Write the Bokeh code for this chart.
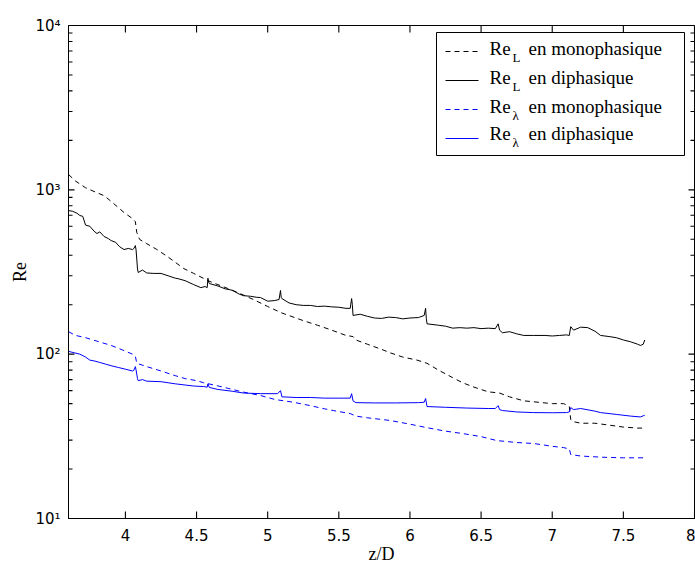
import math
from bokeh.plotting import figure
from bokeh.models import Range1d, FixedTicker, BoxAnnotation
from bokeh.core.properties import value
from bokeh.embed import file_html
from bokeh.resources import INLINE

# ---------------- data ----------------
# Re_L en diphasique (black solid)
zl_di = [3.60, 3.63, 3.66, 3.68, 3.70, 3.72, 3.75, 3.78, 3.80, 3.82, 3.85, 3.88, 3.90, 3.93,
         3.96, 3.99, 4.02, 4.05, 4.06, 4.07, 4.075, 4.085, 4.09, 4.12, 4.15, 4.20, 4.25, 4.30,
         4.35, 4.37, 4.42, 4.48, 4.53, 4.56, 4.575, 4.58, 4.585, 4.59, 4.65, 4.70, 4.75, 4.80,
         4.83, 4.88, 4.92, 4.95, 5.00, 5.05, 5.08, 5.09, 5.095, 5.10, 5.15, 5.20, 5.25, 5.30,
         5.35, 5.40, 5.45, 5.50, 5.55, 5.58, 5.59, 5.595, 5.60, 5.65, 5.70, 5.75, 5.80, 5.85,
         5.90, 5.95, 6.00, 6.06, 6.10, 6.11, 6.115, 6.12, 6.20, 6.25, 6.30, 6.35, 6.40, 6.45,
         6.50, 6.55, 6.60, 6.62, 6.63, 6.65, 6.70, 6.75, 6.80, 6.87, 6.95, 7.00, 7.05, 7.10,
         7.12, 7.13, 7.15, 7.20, 7.25, 7.30, 7.34, 7.40, 7.45, 7.50, 7.55, 7.60, 7.62, 7.64, 7.65]
rel_di = [748, 740, 720, 698, 690, 610, 600, 560, 542, 555, 520, 505, 491, 480,
          450, 433, 440, 433, 440, 458, 430, 330, 314, 325, 312, 310, 310, 300,
          290, 288, 280, 265, 254, 258, 254, 290, 275, 269, 260, 250, 245, 232,
          227, 225, 222, 221, 210, 212, 215, 244, 222, 218, 205, 200, 198, 198,
          195, 196, 194, 193, 190, 190, 218, 200, 172, 175, 170, 166, 165, 168,
          167, 164, 166, 167, 172, 190, 165, 153, 150, 148, 144, 145, 144, 145,
          143, 144, 143, 153, 140, 135, 137, 133, 130, 130, 130, 129, 130, 131,
          130, 147, 140, 146, 145, 138, 130, 128, 126, 122, 119, 115, 113, 115, 122]

# Re_L en monophasique (black dashed)
zl_mono = [3.60, 3.65, 3.72, 3.80, 3.85, 3.90, 3.95, 3.99, 4.05, 4.07, 4.08, 4.10, 4.15, 4.22,
           4.30, 4.41, 4.48, 4.55, 4.58, 4.65, 4.72, 4.80, 4.90, 5.00, 5.10, 5.25, 5.35, 5.45,
           5.55, 5.60, 5.62, 5.70, 5.80, 5.86, 5.95, 6.05, 6.12, 6.20, 6.30, 6.37, 6.45, 6.55,
           6.63, 6.70, 6.80, 6.90, 7.00, 7.08, 7.12, 7.13, 7.14, 7.20, 7.30, 7.40, 7.50, 7.60, 7.65]
rel_mono = [1240, 1130, 1030, 960, 922, 850, 780, 728, 668, 640, 550, 499, 470, 434,
            390, 332, 310, 289, 280, 265, 251, 235, 215, 195, 178, 160, 150, 140,
            130, 128, 122, 115, 107, 102, 96, 92, 88, 80, 72, 67, 63, 59,
            58, 55, 52, 51, 50, 50, 48, 40, 39, 38, 38, 37, 36, 35.5, 35.5]

# Re_lambda en monophasique (blue dashed)
zlam_mono = [3.60, 3.65, 3.72, 3.80, 3.90, 3.98, 4.05, 4.07, 4.08, 4.15, 4.25, 4.35, 4.42, 4.50,
             4.55, 4.62, 4.72, 4.82, 4.95, 5.05, 5.18, 5.30, 5.40, 5.46, 5.58, 5.62, 5.70, 5.86,
             6.00, 6.12, 6.25, 6.37, 6.50, 6.61, 6.75, 6.87, 7.00, 7.08, 7.12, 7.13, 7.20, 7.35,
             7.50, 7.65]
relam_mono = [137, 130, 126, 120, 113, 106, 100, 97, 88, 84, 79, 74, 71, 69,
              67, 65, 62, 59, 56, 53, 51, 48.6, 46.5, 45.4, 43.5, 42, 41, 39.5,
              37.5, 35.7, 34, 32.9, 31.5, 29.8, 29, 28.6, 27.5, 27, 26.5, 24.5, 24, 23.6,
              23.4, 23.4]

# Re_lambda en diphasique (blue solid)
zlam_di = [3.60, 3.64, 3.68, 3.72, 3.75, 3.78, 3.82, 3.86, 3.90, 3.95, 4.00, 4.05, 4.06, 4.07,
           4.075, 4.085, 4.09, 4.12, 4.15, 4.25, 4.35, 4.48, 4.55, 4.575, 4.58, 4.59, 4.65, 4.75,
           4.83, 4.95, 5.07, 5.09, 5.10, 5.20, 5.30, 5.40, 5.50, 5.58, 5.59, 5.60, 5.62, 5.75,
           5.90, 6.06, 6.10, 6.11, 6.12, 6.25, 6.40, 6.55, 6.60, 6.62, 6.63, 6.65, 6.75, 6.87,
           7.00, 7.10, 7.12, 7.13, 7.15, 7.20, 7.30, 7.34, 7.45, 7.55, 7.62, 7.65]
relam_di = [104, 102, 100, 96, 92, 91, 89, 87, 85, 83, 81, 79, 80, 84,
            80, 71, 69, 70, 68.5, 68, 66, 64, 63.5, 63, 66, 62.7, 61, 59.5,
            58, 57.5, 57.5, 60, 55, 54.5, 54.5, 54, 54, 54, 57.5, 52, 50.7, 50.5,
            50.5, 50.7, 51, 53.7, 48, 47.5, 47, 46.7, 46.7, 48.6, 46, 45.4, 44.5, 44.1,
            44, 44.1, 44.5, 47.3, 46, 46.7, 45, 44.1, 43, 42, 41.5, 42.5]

x_ticks = [4, 4.5, 5, 5.5, 6, 6.5, 7, 7.5, 8]
x_tick_labels = ["4", "4.5", "5", "5.5", "6", "6.5", "7", "7.5", "8"]
y_ticks = [10, 100, 1000, 10000]
y_tick_labels = ["10\u00b9", "10\u00b2", "10\u00b3", "10\u2074"]

legend_main = ["Re", "Re", "Re", "Re"]
legend_sub = ["L", "L", "\u03bb", "\u03bb"]
legend_rest = ["en monophasique", "en diphasique", "en monophasique", "en diphasique"]
legend_colors = ["black", "black", "#0000ff", "#0000ff"]
legend_dash = ["5 4", "solid", "5 4", "solid"]

# ---------------- figure ----------------
XMIN, XMAX = 3.6, 8.0
YMIN, YMAX = 10, 10000
FW, FH = 626, 493
# frame position in the page: x 68..694, y 25..518

p = figure(frame_width=FW, frame_height=FH, x_range=Range1d(XMIN, XMAX),
           y_range=Range1d(YMIN, YMAX), y_axis_type="log", output_backend="svg",
           toolbar_location=None, min_border_left=68, min_border_right=1,
           min_border_top=25, min_border_bottom=50)
p.background_fill_color = "white"
p.border_fill_color = "white"
p.outline_line_color = "black"
p.outline_line_width = 1
p.grid.visible = False

minor_y = [mm * d for d in [10, 100, 1000] for mm in range(2, 10)]

TICK_FONT = "DejaVu Sans"
SERIF = "Liberation Serif"

for ax in (p.xaxis[0], p.yaxis[0]):
    ax.axis_line_color = "black"
    ax.major_tick_line_color = None
    ax.minor_tick_line_color = None
    ax.major_tick_in = 0
    ax.major_tick_out = 0
    ax.minor_tick_in = 0
    ax.minor_tick_out = 0
    ax.major_label_text_font = TICK_FONT
    ax.major_label_text_font_size = "15px"
    ax.major_label_text_color = "black"
    ax.axis_label_text_font = SERIF
    ax.axis_label_text_font_size = "18px"
    ax.axis_label_text_font_style = "normal"
    ax.axis_label_text_color = "black"

xax = p.xaxis[0]
xax.ticker = FixedTicker(ticks=x_ticks, minor_ticks=[])
xax.major_label_overrides = {t: s for t, s in zip(x_ticks, x_tick_labels)}
xax.axis_label = "z/D"
xax.major_label_standoff = 10
xax.axis_label_standoff = 0

yax = p.yaxis[0]
yax.ticker = FixedTicker(ticks=y_ticks, minor_ticks=minor_y)
yax.major_label_overrides = {t: s for t, s in zip(y_ticks, y_tick_labels)}
yax.axis_label = "Re"
yax.major_label_standoff = 8
yax.axis_label_standoff = 2

# pixel -> data helpers (used for tick lengths and the legend layout)
def dx(px):
    return XMIN + (px - 68) * (XMAX - XMIN) / FW

def dy(py):
    return 10 ** (4 - (py - 25) * 3.0 / FH)

# inward ticks on all four sides: short dash markers lying fully inside the frame
nx, ny, nm = len(x_ticks), len(y_ticks), len(minor_y)
p.scatter(x_ticks, [dy(518 - 3.5)] * nx, marker="dash", angle=math.pi / 2, size=7,
          line_color="black", line_width=1.1)
p.scatter(x_ticks, [dy(25 + 3.5)] * nx, marker="dash", angle=math.pi / 2, size=7,
          line_color="black", line_width=1.1)
p.scatter([dx(68 + 3)] * ny, y_ticks, marker="dash", size=6, line_color="black", line_width=1.1)
p.scatter([dx(694 - 3)] * ny, y_ticks, marker="dash", size=6, line_color="black", line_width=1.1)
p.scatter([dx(68 + 2)] * nm, minor_y, marker="dash", size=4, line_color="black", line_width=1.1)
p.scatter([dx(694 - 2)] * nm, minor_y, marker="dash", size=4, line_color="black", line_width=1.1)

# ---------------- data lines ----------------
p.line(zl_mono, rel_mono, line_color="black", line_width=1, line_dash="5 4")
p.line(zl_di, rel_di, line_color="black", line_width=1)
p.line(zlam_mono, relam_mono, line_color="#0000ff", line_width=1, line_dash="5 4")
p.line(zlam_di, relam_di, line_color="#0000ff", line_width=1)

# ---------------- legend (hand-built for subscripts) ----------------
p.add_layout(BoxAnnotation(left=dx(436), right=dx(684), top=dy(32), bottom=dy(155),
                           fill_color="white", fill_alpha=1.0, line_color="black",
                           line_alpha=1.0, line_width=1, level="underlay"))

row_text = [48, 77, 105.5, 133]
row_line = [51, 80, 109, 138]
for i in range(4):
    p.line([dx(445), dx(478)], [dy(row_line[i]), dy(row_line[i])],
           line_color=legend_colors[i], line_width=1, line_dash=legend_dash[i])

p.text(x=[dx(489)] * 4, y=[dy(r) for r in row_text], text=legend_main,
       text_font=value(SERIF), text_font_size="19px", text_baseline="middle",
       text_align="left", text_color="black")
p.text(x=[dx(512)] * 4, y=[dy(r + 9) for r in row_text], text=legend_sub,
       text_font=value(SERIF), text_font_size="13px", text_baseline="middle",
       text_align="left", text_color="black")
p.text(x=[dx(528)] * 4, y=[dy(r) for r in row_text], text=legend_rest,
       text_font=value(SERIF), text_font_size="19px", text_baseline="middle",
       text_align="left", text_color="black")

open("out.html", "w").write(file_html(p, INLINE))
